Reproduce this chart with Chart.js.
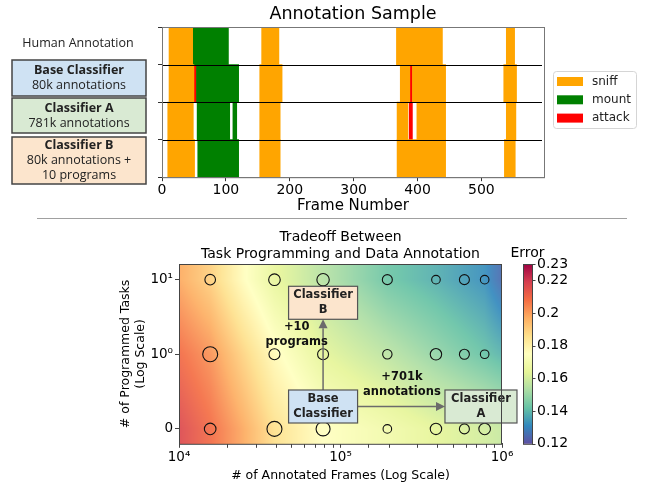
<!DOCTYPE html>
<html>
<head>
<meta charset="utf-8">
<script src="https://cdn.jsdelivr.net/npm/chart.js@4.4.1/dist/chart.umd.min.js"></script>
<style>
  body { margin: 0; background: #fff; width: 645px; height: 485px; position: relative; overflow: hidden; }
  #c1 { position: absolute; left: 0; top: 0; }
  #c2 { position: absolute; left: 0; top: 220px; }
  #sep { position: absolute; left: 37px; top: 218px; width: 590px; height: 1px; background: #a0a0a0; }
</style>
</head>
<body>
<canvas id="c1" width="645" height="215"></canvas>
<div id="sep"></div>
<canvas id="c2" width="645" height="265"></canvas>
<script>
// --- top chart: annotation sample (frame ranges per row) ---
const rows = ['Human Annotation', 'Base Classifier', 'Classifier A', 'Classifier B'];
// [row index, start frame, end frame]
const sniffSegs = [
  [0, 11, 48], [0, 156, 183], [0, 367, 439], [0, 539, 552],
  [1, 11, 50], [1, 153, 188], [1, 373, 388], [1, 392, 444], [1, 535, 555],
  [2, 9, 49], [2, 153, 185], [2, 368, 385], [2, 399, 444], [2, 539, 554],
  [3, 9, 51], [3, 153, 185], [3, 368, 444], [3, 536, 553]
];
const mountSegs = [
  [0, 48, 104],
  [1, 54, 120],
  [2, 55, 106], [2, 111, 117],
  [3, 56, 120]
];
const attackSegs = [
  [1, 50, 54], [1, 388, 392],
  [2, 387, 392]
];
const frameTicks = [0, 100, 200, 300, 400, 500];

// --- bottom chart: tradeoff grid ---
const annotatedFrames = [15600, 39000, 78000, 195000, 390000, 585000, 781000];
const programRows = ['0', '10\u2070', '10\u00b9'];   // 0, 10^0, 10^1
// marker size per row (0, 1, 10 programs)
const spread0 = [5.8, 7.5, 7.0, 4.3, 5.7, 5.0, 5.8];
const spread1 = [7.5, 5.5, 5.5, 4.7, 5.7, 5.0, 4.3];
const spread10 = [5.3, 5.8, 6.2, 5.0, 4.3, 5.0, 4.3];
// error surface
const errFrames = [1e4, 15600, 25000, 39000, 78000, 195000, 390000, 781000, 1e6];
const err0 = [0.217, 0.209, 0.198, 0.186, 0.175, 0.169, 0.164, 0.160, 0.158];
const err1 = [0.209, 0.202, 0.189, 0.177, 0.164, 0.156, 0.149, 0.142, 0.139];
const err10 = [0.198, 0.190, 0.176, 0.165, 0.155, 0.143, 0.138, 0.132, 0.125];
const errTicks = [0.12, 0.14, 0.16, 0.18, 0.2, 0.22, 0.23];
const errMin = 0.12, errMax = 0.23;

const spectral = ['#9e0142', '#d53e4f', '#f46d43', '#fdae61', '#fee08b', '#ffffbf',
                  '#e6f598', '#abdda4', '#66c2a5', '#3288bd', '#5e4fa2'];

function hex(c) { return [1, 3, 5].map(i => parseInt(c.substr(i, 2), 16)); }
const spectralRgb = spectral.map(hex);
// Spectral_r : high error -> red
function errColor(v) {
  let t = (v - errMin) / (errMax - errMin);
  t = Math.max(0, Math.min(1, t));
  const s = (1 - t) * 10;
  const i = Math.min(9, Math.floor(s)), f = s - i;
  const a = spectralRgb[i], b = spectralRgb[i + 1];
  return [0, 1, 2].map(k => a[k] + (b[k] - a[k]) * f);
}

function segData(segs) {
  return segs.map(s => ({ y: rows[s[0]], x: [s[1], s[2]] }));
}

const FONT = "'DejaVu Sans'";

// plugin for the top chart: row lines, frame, left labels, legend, title
const topDecor = {
  id: 'topDecor',
  afterDatasetsDraw(chart) {
    const ctx = chart.ctx, a = chart.chartArea, ys = chart.scales.y;
    ctx.save();
    ctx.strokeStyle = '#000';
    ctx.lineWidth = 1.2;
    for (let i = 1; i < rows.length; i++) {
      const y = Math.round((ys.getPixelForValue(i - 1) + ys.getPixelForValue(i)) / 2) + 0.5;
      ctx.beginPath();
      ctx.moveTo(a.left, y);
      ctx.lineTo(a.right - 2, y);
      ctx.stroke();
    }
    ctx.strokeStyle = '#777';
    ctx.lineWidth = 1;
    ctx.strokeRect(a.left + 0.5, a.top + 0.5, a.right - a.left, a.bottom - a.top);
    ctx.restore();
  },
  afterDraw(chart) {
    const ctx = chart.ctx, a = chart.chartArea;
    ctx.save();
    ctx.fillStyle = '#000';
    ctx.textAlign = 'center';
    ctx.textBaseline = 'middle';
    ctx.font = '17.5px ' + FONT;
    ctx.fillText('Annotation Sample', (a.left + a.right) / 2, 14);

    // left labels
    ctx.fillStyle = '#222';
    ctx.font = "12.5px 'Open Sans'";
    ctx.fillText('Human Annotation', 78, 43);
    const boxes = [
      { y0: 60, y1: 96, fill: '#cfe2f3', lines: ['Base Classifier', '80k annotations'] },
      { y0: 98, y1: 133, fill: '#d9ead3', lines: ['Classifier A', '781k annotations'] },
      { y0: 137, y1: 184, fill: '#fce5cd', lines: ['Classifier B', '80k annotations +', '10 programs'] }
    ];
    boxes.forEach(b => {
      ctx.fillStyle = b.fill;
      ctx.fillRect(12, b.y0, 134, b.y1 - b.y0);
      ctx.strokeStyle = '#444';
      ctx.lineWidth = 1.5;
      ctx.strokeRect(12, b.y0, 134, b.y1 - b.y0);
      const h = 15;
      const start = (b.y0 + b.y1) / 2 - (b.lines.length - 1) * h / 2;
      b.lines.forEach((t, k) => {
        ctx.fillStyle = '#222';
        ctx.font = (k === 0 ? 'bold ' : '') + "12.5px 'Open Sans'";
        ctx.fillText(t, 79, start + k * h);
      });
    });

    // legend
    const lx = a.right + 9, ly = 71;
    ctx.beginPath();
    ctx.roundRect(lx + 0.5, ly + 0.5, 83, 57, 3);
    ctx.fillStyle = 'rgba(255,255,255,0.8)';
    ctx.fill();
    ctx.strokeStyle = '#d5d5d5';
    ctx.lineWidth = 1;
    ctx.stroke();
    ctx.textAlign = 'left';
    ctx.font = '12px ' + FONT;
    chart.data.datasets.forEach((ds, k) => {
      const yy = ly + 10 + k * 18.3;
      ctx.fillStyle = ds.backgroundColor;
      ctx.fillRect(lx + 4, yy - 4, 26, 9);
      ctx.fillStyle = '#222';
      ctx.fillText(ds.label, lx + 39, yy + 0.5);
    });
    ctx.restore();
  }
};

new Chart(document.getElementById('c1'), {
  type: 'bar',
  data: {
    labels: rows,
    datasets: [
      { label: 'sniff', data: segData(sniffSegs), backgroundColor: '#ffa500' },
      { label: 'mount', data: segData(mountSegs), backgroundColor: '#008000' },
      { label: 'attack', data: segData(attackSegs), backgroundColor: '#ff0000' }
    ]
  },
  options: {
    responsive: false,
    animation: false,
    indexAxis: 'y',
    grouped: false,
    barPercentage: 1,
    categoryPercentage: 1,
    layout: { padding: { top: 27, left: 157, right: 101, bottom: 0 } },
    plugins: { legend: { display: false }, tooltip: { enabled: false }, title: { display: false } },
    scales: {
      x: {
        type: 'linear', min: 0, max: 598,
        afterBuildTicks: s => { s.ticks = frameTicks.map(v => ({ value: v })); },
        ticks: { color: '#000', font: { family: FONT, size: 14 }, padding: 1, maxRotation: 0 },
        grid: { drawOnChartArea: false, tickLength: 4, color: '#333' },
        border: { color: '#777' },
        title: { display: true, text: 'Frame Number', color: '#000', font: { family: FONT, size: 15 }, padding: { top: -3, bottom: 0 } }
      },
      y: {
        type: 'category',
        offset: true,
        ticks: { display: false },
        grid: { drawOnChartArea: false, tickLength: 4, color: '#333' },
        border: { color: '#777' },
        afterFit: s => { s.width = 5; }
      }
    }
  },
  plugins: [topDecor]
});

// --- bottom chart ---
function lerpRow(arr, lx) {
  const lxs = errFrames.map(Math.log10);
  if (lx <= lxs[0]) return arr[0];
  for (let i = 1; i < lxs.length; i++) {
    if (lx <= lxs[i]) {
      const f = (lx - lxs[i - 1]) / (lxs[i] - lxs[i - 1]);
      return arr[i - 1] + (arr[i] - arr[i - 1]) * f;
    }
  }
  return arr[arr.length - 1];
}
function errAt(x, y) {
  const lx = Math.log10(x);
  const r = [lerpRow(err0, lx), lerpRow(err1, lx), lerpRow(err10, lx)];
  const yy = Math.max(0, Math.min(2, y));
  const i = Math.min(1, Math.floor(yy)), f = yy - i;
  return r[i] + (r[i + 1] - r[i]) * f;
}

const pts = [];
const radii = [];
[spread0, spread1, spread10].forEach((sp, row) => {
  annotatedFrames.forEach((fr, k) => {
    pts.push({ x: fr, y: row });
    radii.push(sp[k]);
  });
});

// text boxes in data coordinates
const boxNotes = [
  { x: 78000, y: 0.3, w: 69, fill: '#cfe2f3', lines: ['Base', 'Classifier'] },
  { x: 78000, y: 1.69, w: 69, fill: '#fce5cd', lines: ['Classifier', 'B'] },
  { x: 741000, y: 0.3, w: 72, fill: '#d9ead3', lines: ['Classifier', 'A'] }
];
const textNotes = [
  { x: 53600, y: 1.26, lines: ['+10', 'programs'] },
  { x: 240000, y: 0.6, lines: ['+701k', 'annotations'] }
];

function arrow(ctx, x0, y0, x1, y1) {
  const ang = Math.atan2(y1 - y0, x1 - x0), L = 9, W = 4.5;
  ctx.beginPath();
  ctx.moveTo(x0, y0);
  ctx.lineTo(x1 - Math.cos(ang) * L, y1 - Math.sin(ang) * L);
  ctx.stroke();
  ctx.beginPath();
  ctx.moveTo(x1, y1);
  ctx.lineTo(x1 - Math.cos(ang) * L - Math.sin(ang) * W, y1 - Math.sin(ang) * L + Math.cos(ang) * W);
  ctx.lineTo(x1 - Math.cos(ang) * L + Math.sin(ang) * W, y1 - Math.sin(ang) * L - Math.cos(ang) * W);
  ctx.closePath();
  ctx.fill();
}

const bottomDecor = {
  id: 'bottomDecor',
  beforeDatasetsDraw(chart) {
    const ctx = chart.ctx, a = chart.chartArea, xs = chart.scales.x, ys = chart.scales.y;
    const w = Math.round(a.right - a.left), h = Math.round(a.bottom - a.top);
    const img = ctx.createImageData(w, h);
    const alpha = 0.92;
    for (let j = 0; j < h; j++) {
      const yv = ys.getValueForPixel(a.top + j + 0.5);
      for (let i = 0; i < w; i++) {
        const xv = xs.getValueForPixel(a.left + i + 0.5);
        const c = errColor(errAt(xv, yv));
        const p = (j * w + i) * 4;
        img.data[p] = c[0] * alpha + 255 * (1 - alpha);
        img.data[p + 1] = c[1] * alpha + 255 * (1 - alpha);
        img.data[p + 2] = c[2] * alpha + 255 * (1 - alpha);
        img.data[p + 3] = 255;
      }
    }
    ctx.putImageData(img, Math.round(a.left), Math.round(a.top));
  },
  afterDatasetsDraw(chart) {
    const ctx = chart.ctx, xs = chart.scales.x, ys = chart.scales.y;
    ctx.save();
    const pos = boxNotes.map(b => ({ b, cx: xs.getPixelForValue(b.x), cy: ys.getPixelForValue(b.y) }));
    const H = 33;
    ctx.strokeStyle = '#6b6b6b';
    ctx.fillStyle = '#6b6b6b';
    ctx.lineWidth = 1.5;
    const base = pos[0], cb = pos[1], ca = pos[2];
    arrow(ctx, base.cx, base.cy - H / 2, cb.cx, cb.cy + H / 2);
    arrow(ctx, base.cx + base.b.w / 2, base.cy, ca.cx - ca.b.w / 2, ca.cy);

    ctx.textAlign = 'center';
    ctx.textBaseline = 'middle';
    pos.forEach(p => {
      ctx.fillStyle = p.b.fill;
      ctx.fillRect(p.cx - p.b.w / 2, p.cy - H / 2, p.b.w, H);
      ctx.strokeStyle = '#555';
      ctx.lineWidth = 1.2;
      ctx.strokeRect(p.cx - p.b.w / 2, p.cy - H / 2, p.b.w, H);
      ctx.fillStyle = '#222';
      ctx.font = 'bold 11.5px ' + FONT;
      ctx.fillText(p.b.lines[0], p.cx, p.cy - 7.5);
      ctx.fillText(p.b.lines[1], p.cx, p.cy + 7.5);
    });
    textNotes.forEach(t => {
      const cx = xs.getPixelForValue(t.x), cy = ys.getPixelForValue(t.y);
      ctx.fillStyle = '#111';
      ctx.font = 'bold 11.5px ' + FONT;
      ctx.fillText(t.lines[0], cx, cy - 7.5);
      ctx.fillText(t.lines[1], cx, cy + 7.5);
    });
    ctx.restore();
  },
  afterDraw(chart) {
    const ctx = chart.ctx, a = chart.chartArea;
    ctx.save();
    ctx.strokeStyle = '#444';
    ctx.lineWidth = 1;
    ctx.strokeRect(a.left + 0.5, a.top + 0.5, a.right - a.left - 1, a.bottom - a.top);

    ctx.fillStyle = '#000';
    ctx.textAlign = 'center';
    ctx.textBaseline = 'middle';
    ctx.font = '14px ' + FONT;
    const mid = (a.left + a.right) / 2;
    ctx.fillText('Tradeoff Between', mid, 17);
    ctx.fillText('Task Programming and Data Annotation', mid, 34);

    // colorbar
    const cx0 = a.right + 21, cw = 9;
    const g = ctx.createLinearGradient(0, a.bottom, 0, a.top);
    for (let k = 0; k <= 20; k++) {
      const v = errMin + (errMax - errMin) * k / 20;
      const c = errColor(v);
      g.addColorStop(k / 20, 'rgb(' + c.map(Math.round).join(',') + ')');
    }
    ctx.fillStyle = g;
    ctx.fillRect(cx0, a.top, cw, a.bottom - a.top);
    ctx.strokeStyle = '#444';
    ctx.strokeRect(cx0 + 0.5, a.top + 0.5, cw, a.bottom - a.top);
    ctx.fillStyle = '#000';
    ctx.fillText('Error', cx0 + cw / 2, a.top - 11);
    ctx.textAlign = 'left';
    ctx.font = '14px ' + FONT;
    errTicks.forEach(v => {
      const y = a.bottom - (v - errMin) / (errMax - errMin) * (a.bottom - a.top);
      ctx.beginPath();
      ctx.moveTo(cx0 + cw, Math.round(y) + 0.5);
      ctx.lineTo(cx0 + cw + 3.5, Math.round(y) + 0.5);
      ctx.stroke();
      ctx.fillText(String(v), cx0 + cw + 5, y);
    });
    ctx.restore();
  }
};

const supers = { 4: '\u2074', 5: '\u2075', 6: '\u2076' };

new Chart(document.getElementById('c2'), {
  type: 'scatter',
  data: {
    datasets: [{
      data: pts,
      pointRadius: radii,
      pointBackgroundColor: 'rgba(0,0,0,0)',
      pointBorderColor: '#111',
      pointBorderWidth: 1.1
    }]
  },
  options: {
    responsive: false,
    animation: false,
    layout: { padding: { top: 44, left: 118, right: 143, bottom: 2 } },
    plugins: { legend: { display: false }, tooltip: { enabled: false } },
    scales: {
      x: {
        type: 'logarithmic', min: 1e4, max: 1e6,
        ticks: {
          autoSkip: false, maxRotation: 0, color: '#000', padding: 2,
          font: { family: FONT, size: 13.5 },
          callback: v => {
            const e = Math.log10(v);
            return Math.abs(e - Math.round(e)) < 1e-9 ? '10' + supers[Math.round(e)] : '';
          }
        },
        grid: { drawOnChartArea: false, tickLength: 4, color: '#444' },
        border: { color: '#444' },
        title: { display: true, text: '# of Annotated Frames (Log Scale)', color: '#000', font: { family: FONT, size: 12.5 }, padding: { top: 0, bottom: 0 } }
      },
      y: {
        type: 'linear', min: -0.2, max: 2.21,
        afterBuildTicks: s => { s.ticks = programRows.map((t, i) => ({ value: i })); },
        ticks: { color: '#000', padding: 2, font: { family: FONT, size: 13.5 }, callback: v => programRows[v] },
        grid: { drawOnChartArea: false, tickLength: 4, color: '#444' },
        border: { color: '#444' },
        title: { display: true, text: ['# of Programmed Tasks', '(Log Scale)'], color: '#000', font: { family: FONT, size: 12.5 }, padding: 0 },
        afterFit: s => { s.width = 61; }
      }
    }
  },
  plugins: [bottomDecor]
});
</script>
</body>
</html>
